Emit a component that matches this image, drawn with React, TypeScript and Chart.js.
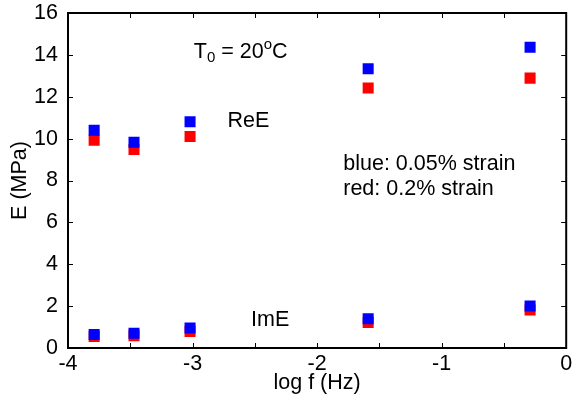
import { useEffect, useRef } from 'react';
import { Chart, registerables } from 'chart.js';

Chart.register(...registerables);

// log f (Hz)
const logFreq = [-3.79, -3.47, -3.02, -1.59, -0.29];
// ReE (MPa)
const reEBlue = [10.4, 9.83, 10.81, 13.34, 14.36];
const reERed = [9.92, 9.48, 10.1, 12.42, 12.89];
// ImE (MPa)
const imEBlue = [0.65, 0.7, 0.96, 1.4, 2.01];
const imERed = [0.55, 0.58, 0.79, 1.22, 1.81];

const xMin = -4;
const xMax = 0;
const xTickStep = 0.5;
const yMin = 0;
const yMax = 16;
const yTickStep = 2;

const xTitle = 'log f (Hz)';
const yTitle = 'E (MPa)';

const FONT = "Arial, 'Liberation Sans', sans-serif";
const FS = 21.5;

const toPts = (xs: number[], ys: number[]) => xs.map((x, i) => ({ x, y: ys[i] }));

const framePlugin = {
  id: 'frame',
  afterDraw(chart: any) {
    const { ctx, chartArea: a, scales } = chart;
    const xs = scales.x;
    const ys = scales.y;
    ctx.save();
    ctx.strokeStyle = '#000';
    // ticks (inward)
    ctx.lineWidth = 1;
    const tl = 5;
    ctx.beginPath();
    for (let v = xMin; v <= xMax + 1e-9; v += xTickStep) {
      const px = Math.round(xs.getPixelForValue(v)) + 0.5;
      ctx.moveTo(px, a.bottom);
      ctx.lineTo(px, a.bottom - tl);
      ctx.moveTo(px, a.top);
      ctx.lineTo(px, a.top + tl);
    }
    for (let v = yMin; v <= yMax + 1e-9; v += yTickStep) {
      const py = Math.round(ys.getPixelForValue(v)) + 0.5;
      ctx.moveTo(a.left, py);
      ctx.lineTo(a.left + tl, py);
      ctx.moveTo(a.right, py);
      ctx.lineTo(a.right - tl, py);
    }
    ctx.stroke();
    // frame
    ctx.lineWidth = 2;
    ctx.strokeRect(a.left, a.top, a.right - a.left, a.bottom - a.top);

    // annotations
    ctx.fillStyle = '#000';
    ctx.textBaseline = 'alphabetic';
    ctx.textAlign = 'left';
    const big = `${FS}px ${FONT}`;
    const small = `${Math.round(FS * 0.7)}px ${FONT}`;
    const X = (v: number) => xs.getPixelForValue(v);
    const Y = (v: number) => ys.getPixelForValue(v);

    // T0 = 20°C
    let tx = X(-2.99);
    const ty = Y(13.85);
    const segs: [string, string, number][] = [
      ['T', big, 0],
      ['0', small, 4],
      [' = 20', big, 0],
      ['o', small, -9],
      ['C', big, 0],
    ];
    for (const [t, f, dy] of segs) {
      ctx.font = f;
      ctx.fillText(t, tx, ty + dy);
      tx += ctx.measureText(t).width;
    }

    ctx.font = big;
    ctx.fillText('ReE', X(-2.72), Y(10.55));
    ctx.fillText('ImE', X(-2.53), Y(1.03));
    ctx.fillText('blue: 0.05% strain', X(-1.79), Y(8.48));
    ctx.fillText('red: 0.2% strain', X(-1.79), Y(7.32));
    ctx.restore();
  },
};

export default function App() {
  const ref = useRef<HTMLCanvasElement | null>(null);
  useEffect(() => {
    document.body.style.margin = '0';
    if (!ref.current) return;
    const mk = (label: string, xs: number[], ys: number[], color: string) => ({
      label,
      data: toPts(xs, ys),
      backgroundColor: color,
      borderColor: color,
      borderWidth: 0,
      pointStyle: 'rect',
      pointRadius: 7.8,
      pointHoverRadius: 7.8,
      showLine: false,
    });
    const chart = new Chart(ref.current, {
      type: 'scatter',
      data: {
        datasets: [
          mk('ReE 0.05%', logFreq, reEBlue, '#0000ff'),
          mk('ImE 0.05%', logFreq, imEBlue, '#0000ff'),
          mk('ReE 0.2%', logFreq, reERed, '#ff0000'),
          mk('ImE 0.2%', logFreq, imERed, '#ff0000'),
        ],
      },
      options: {
        animation: false,
        responsive: false,
        layout: { padding: { left: 0, top: 13, right: 6, bottom: 0 } },
        plugins: { legend: { display: false }, tooltip: { enabled: false } },
        scales: {
          x: {
            type: 'linear',
            min: xMin,
            max: xMax,
            grid: { display: false, drawTicks: false },
            border: { display: false },
            ticks: {
              stepSize: xTickStep,
              autoSkip: false,
              maxRotation: 0,
              padding: 3,
              color: '#000',
              font: { family: FONT, size: FS },
              callback: (v: any) => (Number.isInteger(Number(v)) ? String(v) : ''),
            },
            title: {
              display: true,
              text: xTitle,
              color: '#000',
              font: { family: FONT, size: FS },
              padding: { top: 0, bottom: 7 },
            },
            afterFit: (s: any) => {
              s.height = 55;
              s.paddingLeft = 0;
              s.paddingRight = 0;
            },
          },
          y: {
            type: 'linear',
            min: yMin,
            max: yMax,
            grid: { display: false, drawTicks: false },
            border: { display: false },
            ticks: {
              stepSize: yTickStep,
              padding: 10,
              color: '#000',
              font: { family: FONT, size: FS },
            },
            title: {
              display: true,
              text: yTitle,
              color: '#000',
              font: { family: FONT, size: FS },
              padding: { top: 7, bottom: 0 },
            },
            afterFit: (s: any) => {
              s.width = 68;
              s.paddingTop = 0;
              s.paddingBottom = 0;
            },
          },
        },
      },
      plugins: [framePlugin],
    } as any);
    return () => chart.destroy();
  }, []);
  return (
    <div style={{ position: 'absolute', left: 0, top: 0, width: 574, height: 403, background: '#fff' }}>
      <canvas ref={ref} width={574} height={403} />
    </div>
  );
}
